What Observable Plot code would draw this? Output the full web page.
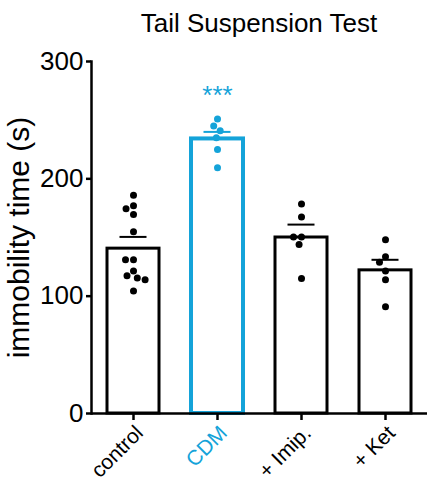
<!DOCTYPE html>
<html>
<head>
<meta charset="utf-8">
<script src="https://cdn.jsdelivr.net/npm/d3@7"></script>
<script src="https://cdn.jsdelivr.net/npm/@observablehq/plot@0.6"></script>
<style>
  body { margin: 0; background: #fff; font-family: "Liberation Sans", Arial, sans-serif; }
  #wrap { position: relative; width: 429px; height: 489px; }
  #title { position: absolute; left: 91px; width: 336px; top: 10px; text-align: center;
           font-size: 26px; line-height: 26px; color: #000; }
  g[aria-label="y-axis label"] { font-size: 30px; }
</style>
</head>
<body>
<div id="wrap">
  <div id="title">Tail Suspension Test</div>
</div>
<script>
// ---- data ----
const groups = ["control", "CDM", "+ Imip.", "+ Ket"];
const means  = [140.5, 234, 150, 122];
const sems   = [10, 6, 11, 9];
const controlPts = [186, 177, 174.5, 169.5, 155, 131, 131, 121.5, 117.5, 115.5, 114, 104.5];
const cdmPts     = [251, 245, 241, 235, 225, 209.5];
const imipPts    = [178.5, 167.5, 150.5, 150.5, 144, 115];
const ketPts     = [148, 133.5, 129, 121.5, 114, 91];
const yTicks = [0, 100, 200, 300];
const annotations = [{group: "CDM", label: "***"}];

const blue = "#14a3d9";
const colorOf = g => g === "CDM" ? blue : "#000";

const summary = groups.map((g, i) => ({group: g, mean: means[i], sem: sems[i]}));
const ptsByGroup = [controlPts, cdmPts, imipPts, ketPts];
const points = groups.flatMap((g, i) => ptsByGroup[i].map(v => ({group: g, value: v})));
const annot = annotations.map(a => {
  const s = summary.find(d => d.group === a.group);
  return {...a, top: s.mean + s.sem};
});

const chart = Plot.plot({
  width: 429,
  height: 489,
  marginLeft: 91,
  marginRight: 2,
  marginTop: 61,
  marginBottom: 76,
  style: {fontFamily: "Liberation Sans, Arial, sans-serif", background: "white", color: "#000"},
  fx: {domain: groups, padding: 0},
  y: {domain: [0, 300]},
  marks: [
    Plot.barY(summary, {fx: "group", y: "mean", fill: "white", stroke: d => colorOf(d.group),
      strokeWidth: d => d.group === "CDM" ? 4 : 3, insetLeft: 16, insetRight: 16}),
    Plot.ruleX(summary, {fx: "group", y1: "mean", y2: d => d.mean + d.sem,
      stroke: d => colorOf(d.group), strokeWidth: 2}),
    Plot.tickY(summary, {fx: "group", y: d => d.mean + d.sem, stroke: d => colorOf(d.group),
      strokeWidth: 2, insetLeft: 28.5, insetRight: 28.5}),
    Plot.dot(points, Plot.dodgeX("middle", {fx: "group", y: "value", r: 3.5, padding: 4,
      fill: d => colorOf(d.group), stroke: "none"})),
    Plot.text(annot, {fx: "group", y: "top", text: "label", fill: blue, fontSize: 26, dy: -36}),
    Plot.ruleY([0], {stroke: "#000", strokeWidth: 2.5}),
    Plot.frame({anchor: "left", facetAnchor: "left", stroke: "#000", strokeWidth: 2.5}),
    Plot.axisY({ticks: yTicks, tickSize: 5, tickPadding: 3, fontSize: 26, strokeWidth: 2.5,
      label: "immobility time (s)", labelAnchor: "center", labelArrow: "none",
      labelOffset: 84}),
    // fx tick marks
    Plot.axisFx({anchor: "bottom", tickSize: 7, tickFormat: () => "", strokeWidth: 2.5, label: null}),
    // fx tick labels
    Plot.axisFx({anchor: "bottom", tickSize: 0, tickPadding: 16, tickRotate: -45, fontSize: 21,
      dx: 6, label: null, fill: d => colorOf(d)})
  ]
});
document.getElementById("wrap").prepend(chart);
chart.style.position = "absolute";
chart.style.left = "0";
chart.style.top = "0";
</script>
</body>
</html>
